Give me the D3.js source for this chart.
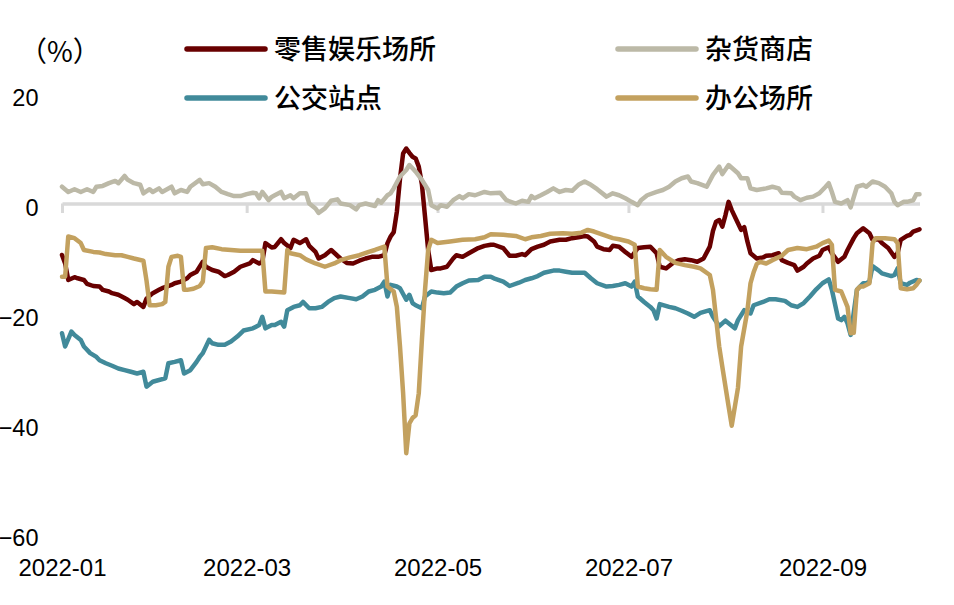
<!DOCTYPE html>
<html>
<head>
<meta charset="utf-8">
<script src="https://cdn.jsdelivr.net/npm/d3@7"></script>
<style>
  html, body { margin: 0; padding: 0; background: #fff; }
  svg { display: block; }
  .num { font-family: "Liberation Sans", Arial, sans-serif; fill: #000; }
  .cjk { font-family: "Noto Sans CJK SC", "Noto Sans", sans-serif; fill: #000; }
</style>
</head>
<body>
<svg id="chart" width="954" height="605"></svg>
<script>
// ---- data (day offset from startDate, value in %) ----
const startDate = "2022-01-01";
const seriesNames = ["零售娱乐场所", "杂货商店", "公交站点", "办公场所"];
const yTicks = [20, 0, -20, -40, -60];
const xTickDates = ["2022-01-01", "2022-03-01", "2022-05-01", "2022-07-01", "2022-09-01"];
const xTickLabels = ["2022-01", "2022-03", "2022-05", "2022-07", "2022-09"];
const lastDay = 274;

const retail = [[0,-9.36],[1,-10.9],[2,-13.9],[4,-13.4],[5,-13.6],[7,-13.9],[8,-14.6],[10,-15.0],[12,-15.1],[13,-15.7],[15,-16.0],[16,-16.3],[18,-16.6],[20,-17.2],[21,-17.5],[23,-18.3],[24,-17.9],[26,-18.8],[27,-17.3],[29,-16.3],[31,-15.7],[32,-15.4],[35,-14.8],[36,-14.5],[38,-14.2],[40,-13.6],[41,-13.0],[43,-12.4],[45,-10.6],[46,-11.5],[48,-12.1],[50,-12.4],[52,-13.2],[53,-13.0],[55,-12.4],[57,-11.5],[60,-10.9],[61,-10.3],[63,-10.9],[64,-10.6],[65,-7.2],[67,-8.0],[68,-7.9],[70,-6.5],[71,-7.2],[73,-8.1],[74,-6.6],[76,-7.2],[78,-6.5],[79,-7.7],[81,-8.8],[82,-10.0],[84,-9.4],[86,-8.45],[88,-9.5],[89,-10.0],[91,-10.8],[93,-10.9],[95,-10.4],[97,-10.0],[99,-9.7],[101,-9.7],[103,-9.4],[104,-7.2],[105,-6.0],[106,-5.2],[107,-1.5],[108,4.5],[109,9.1],[110,10.0],[111,9.2],[112,8.5],[113,8.2],[114,6.7],[115,3.5],[116,-2.4],[117,-8.45],[118,-12.1],[120,-11.8],[121,-11.8],[123,-11.5],[125,-10.0],[126,-9.4],[128,-9.7],[130,-9.05],[133,-8.1],[135,-7.7],[137,-7.5],[138,-7.5],[141,-8.1],[143,-9.5],[145,-9.5],[147,-9.2],[148,-9.4],[150,-8.3],[152,-7.85],[154,-7.5],[156,-6.9],[159,-6.6],[161,-6.6],[163,-6.3],[165,-6.15],[167,-5.9],[168,-6.0],[170,-6.9],[171,-7.85],[173,-8.3],[175,-8.45],[176,-7.7],[178,-7.85],[180,-8.8],[182,-9.7],[184,-8.1],[186,-7.95],[188,-7.85],[190,-9.05],[191,-11.5],[193,-11.8],[195,-10.9],[197,-10.3],[199,-10.15],[201,-10.3],[203,-10.6],[205,-10.0],[207,-7.85],[208,-5.0],[209,-3.3],[210,-3.0],[211,-4.2],[212,-2.1],[213,0.3],[214,-1.2],[216,-3.6],[217,-4.8],[218,-4.3],[219,-6.9],[220,-9.05],[222,-10.0],[224,-9.8],[225,-9.5],[227,-9.4],[229,-9.05],[230,-10.3],[232,-10.8],[234,-11.2],[235,-12.2],[237,-11.5],[238,-10.9],[240,-10.0],[242,-9.5],[243,-8.45],[245,-7.95],[246,-9.05],[248,-10.6],[250,-9.7],[251,-8.45],[253,-6.3],[254,-5.4],[256,-4.5],[258,-5.4],[259,-6.6],[261,-6.5],[262,-7.2],[264,-8.1],[266,-9.7],[267,-9.05],[268,-6.6],[270,-5.9],[271,-5.7],[272,-5.1],[274,-4.7]];

const grocery = [[0,3.05],[2,2.1],[4,2.6],[6,2.1],[8,2.6],[10,2.1],[11,3.05],[13,3.2],[15,3.7],[17,4.1],[18,3.7],[20,5.0],[21,4.3],[23,3.7],[25,3.4],[26,1.85],[28,2.6],[29,2.1],[31,2.75],[32,2.1],[35,3.05],[36,1.85],[38,2.45],[40,2.1],[41,3.05],[44,4.3],[45,3.5],[47,3.7],[49,3.05],[51,2.1],[53,1.7],[55,1.35],[57,1.35],[59,1.7],[61,1.95],[62,1.85],[63,0.95],[64,2.1],[66,0.6],[67,1.2],[68,1.5],[70,2.1],[71,0.95],[73,1.5],[74,0.95],[76,1.85],[78,1.85],[79,0.0],[81,-0.9],[82,-1.7],[84,-0.9],[86,0.5],[88,0.75],[89,0.0],[92,-0.3],[94,-1.05],[95,-0.3],[97,0.0],[100,-0.45],[101,0.6],[102,0.15],[104,1.5],[105,1.85],[106,2.75],[108,4.9],[110,6.1],[111,7.0],[112,6.4],[113,5.8],[115,4.3],[117,2.45],[118,-0.3],[120,-0.9],[121,-0.3],[123,-0.6],[125,0.6],[127,1.35],[128,0.95],[130,1.7],[132,1.5],[135,2.1],[137,1.85],[140,1.95],[142,0.6],[145,0.0],[147,0.5],[149,0.3],[150,1.35],[151,0.95],[153,1.5],[155,2.1],[157,2.75],[159,2.1],[161,2.45],[163,2.3],[165,3.4],[167,4.0],[169,3.4],[171,2.6],[174,1.25],[176,1.85],[178,1.5],[180,0.95],[182,0.3],[184,-0.3],[185,0.6],[187,1.5],[190,2.1],[192,2.45],[194,3.05],[196,4.0],[198,4.6],[200,4.9],[201,4.0],[203,3.7],[206,3.05],[208,5.2],[210,6.7],[211,5.35],[213,7.0],[216,5.5],[217,4.6],[219,4.6],[220,2.75],[222,2.45],[225,2.75],[227,3.05],[229,2.75],[230,1.95],[233,1.85],[234,1.25],[236,0.6],[238,1.05],[240,1.25],[242,1.85],[244,3.05],[245,3.7],[246,2.1],[247,0.3],[249,0.0],[251,0.6],[252,-0.7],[254,3.05],[256,3.4],[257,3.05],[259,4.0],[261,3.7],[263,3.05],[265,1.85],[266,0.3],[267,-0.3],[269,0.3],[270,0.3],[272,0.6],[273,1.7],[274,1.7]];

const transit = [[0,-23.6],[1,-26.0],[3,-23.3],[4,-23.9],[6,-24.8],[7,-26.0],[9,-27.2],[11,-27.9],[12,-28.5],[14,-29.05],[16,-29.5],[18,-30.0],[20,-30.3],[22,-30.6],[24,-30.9],[26,-30.6],[27,-33.3],[29,-32.4],[31,-32.1],[33,-31.8],[34,-29.05],[36,-28.8],[38,-28.5],[39,-30.9],[41,-30.3],[43,-28.8],[44,-27.9],[45,-27.2],[47,-24.8],[48,-25.4],[50,-25.7],[52,-25.7],[54,-25.1],[56,-24.2],[58,-23.1],[61,-22.7],[62,-22.4],[63,-22.1],[64,-20.6],[65,-22.7],[67,-22.1],[68,-22.1],[70,-21.5],[71,-22.4],[72,-19.4],[74,-18.8],[76,-18.5],[77,-17.9],[79,-19.05],[81,-19.05],[83,-18.8],[85,-17.9],[87,-17.2],[89,-16.9],[92,-17.2],[94,-17.4],[96,-16.9],[98,-16.0],[100,-15.7],[102,-15.1],[103,-14.2],[104,-16.9],[105,-14.8],[107,-15.1],[108,-15.4],[110,-17.5],[111,-16.6],[112,-18.1],[113,-18.5],[115,-19.05],[116,-16.9],[118,-16.0],[120,-16.2],[122,-16.3],[124,-16.2],[126,-15.1],[128,-14.5],[130,-14.0],[133,-13.9],[135,-13.3],[137,-13.3],[138,-13.6],[141,-14.2],[143,-15.0],[146,-14.4],[148,-13.9],[150,-13.6],[152,-13.2],[154,-12.6],[157,-12.2],[159,-12.2],[161,-12.4],[163,-12.6],[165,-12.6],[167,-12.6],[169,-13.6],[171,-14.5],[174,-15.1],[176,-15.0],[178,-14.8],[180,-14.5],[182,-15.1],[183,-14.2],[184,-16.9],[186,-17.9],[188,-18.8],[189,-19.4],[190,-20.9],[191,-18.3],[194,-18.8],[196,-19.05],[198,-19.5],[200,-20.0],[202,-20.6],[204,-19.9],[207,-19.4],[208,-20.6],[210,-22.3],[212,-21.3],[215,-22.7],[216,-21.2],[218,-19.4],[220,-20.0],[221,-18.5],[224,-17.9],[226,-17.4],[228,-17.4],[231,-17.7],[233,-18.5],[235,-18.8],[237,-18.1],[239,-16.9],[241,-15.6],[243,-14.5],[245,-13.8],[246,-15.7],[248,-20.9],[249,-21.2],[250,-20.6],[251,-21.8],[252,-23.9],[254,-15.7],[256,-14.5],[257,-14.5],[258,-14.2],[259,-11.4],[261,-12.2],[262,-12.7],[265,-13.2],[266,-13.0],[267,-11.8],[268,-14.5],[270,-14.8],[271,-14.4],[273,-13.9],[274,-14.0]];

const office = [[0,-13.3],[1,-13.3],[2,-6.0],[4,-6.3],[6,-7.2],[7,-8.45],[10,-8.8],[12,-8.9],[14,-9.2],[17,-9.4],[19,-9.4],[21,-9.7],[23,-10.0],[26,-10.4],[27,-14.0],[28,-18.5],[30,-18.5],[32,-18.3],[33,-17.9],[34,-11.5],[35,-9.7],[37,-9.5],[38,-9.7],[39,-15.7],[40,-15.7],[42,-15.5],[44,-15.0],[45,-14.2],[46,-8.1],[48,-7.95],[51,-8.3],[54,-8.45],[57,-8.6],[61,-8.6],[64,-8.6],[65,-16.0],[67,-16.0],[71,-16.2],[72,-8.45],[73,-9.05],[76,-9.4],[78,-10.15],[81,-10.9],[84,-11.5],[87,-10.9],[89,-10.3],[92,-9.8],[95,-9.4],[98,-8.8],[100,-8.45],[103,-7.85],[104,-15.1],[106,-16.0],[107,-18.8],[108,-26.0],[109,-34.5],[110,-45.4],[111,-40.0],[112,-39.0],[113,-38.5],[114,-34.5],[115,-24.8],[116,-15.7],[117,-8.45],[118,-6.6],[120,-7.2],[124,-6.9],[128,-6.6],[132,-6.5],[135,-6.15],[137,-5.6],[141,-5.7],[145,-5.9],[148,-6.5],[150,-6.15],[153,-5.9],[156,-5.5],[160,-5.4],[163,-5.5],[166,-5.3],[168,-4.8],[170,-5.1],[173,-5.7],[176,-6.3],[178,-6.5],[181,-6.9],[183,-7.5],[184,-15.1],[186,-15.4],[188,-15.6],[190,-15.7],[191,-8.45],[193,-9.7],[196,-10.8],[199,-11.2],[202,-11.5],[204,-11.8],[207,-13.0],[208,-15.7],[210,-26.0],[211,-29.7],[213,-36.9],[214,-40.4],[216,-33.5],[217,-26.0],[219,-19.5],[220,-14.5],[221,-12.5],[222,-11.0],[223,-10.6],[225,-10.9],[227,-10.3],[230,-9.5],[232,-8.45],[235,-8.1],[238,-8.3],[241,-7.85],[243,-7.2],[245,-6.75],[246,-7.5],[247,-15.7],[249,-16.0],[251,-18.8],[252,-23.6],[253,-23.5],[254,-15.7],[255,-15.1],[256,-15.1],[258,-14.5],[259,-7.2],[260,-6.3],[263,-6.3],[266,-6.5],[267,-7.2],[268,-15.4],[270,-15.6],[272,-15.4],[273,-14.8],[274,-14.0]];

// ---- styles ----
const colors = ["#680000", "#bcb9a7", "#418a9a", "#c3a15f"];
const seriesData = [retail, grocery, transit, office];

const svg = d3.select("#chart");
const parse = d3.utcParse("%Y-%m-%d");
const t0 = parse(startDate);

const x = d3.scaleUtc()
  .domain([t0, d3.utcDay.offset(t0, lastDay)])
  .range([62, 919.5]);
const y = d3.scaleLinear().domain([-60, 20]).range([533.5, 93.5]);

// y axis labels
const yAxis = d3.axisLeft(y).tickValues(yTicks).tickSize(0).tickPadding(0)
  .tickFormat(d3.format("d"));
const gy = svg.append("g").attr("transform", "translate(38.5,3.5)").call(yAxis);
gy.select(".domain").remove();
gy.selectAll("text").attr("class", "num").attr("font-size", 23.5).attr("fill", "#000")
  .attr("font-family", null).attr("dy", "0.35em");

// zero line with ticks
const tickDates = xTickDates.map(parse);
const zeroAxis = d3.axisBottom(x).tickValues(tickDates).tickSize(9.5).tickSizeOuter(0).tickFormat("");
const gz = svg.append("g").attr("transform", `translate(0,${y(0)})`).call(zeroAxis);
gz.select(".domain").attr("stroke", "#d9d9d9").attr("stroke-width", 3.5);
gz.selectAll(".tick line").attr("stroke", "#d9d9d9").attr("stroke-width", 3);

// x labels
const labelAxis = d3.axisBottom(x).tickValues(tickDates).tickSize(0).tickPadding(0)
  .tickFormat((d, i) => xTickLabels[i]);
const gx = svg.append("g").attr("transform", "translate(0,568)").call(labelAxis);
gx.select(".domain").remove();
gx.selectAll("text").attr("class", "num").attr("font-size", 24).attr("fill", "#000")
  .attr("font-family", null).attr("dy", "0.35em").attr("y", 0);

// lines
const line = d3.line()
  .x(d => x(d3.utcDay.offset(t0, d[0])))
  .y(d => y(d[1]));
[0, 1, 2, 3].forEach(i => {
  svg.append("path")
    .datum(seriesData[i])
    .attr("fill", "none")
    .attr("stroke", colors[i])
    .attr("stroke-width", 4.5)
    .attr("stroke-linejoin", "round")
    .attr("stroke-linecap", "round")
    .attr("d", line);
});

// unit label
svg.append("text").attr("class", "cjk").attr("x", 19).attr("y", 52)
  .attr("dy", "0.35em").attr("font-size", 28).text("（%）");

// legend
const legendPos = [[185, 49], [616, 49], [185, 98], [616, 98]];
seriesNames.forEach((name, i) => {
  const [lx, ly] = legendPos[i];
  svg.append("line").attr("x1", lx + 2).attr("x2", lx + 80).attr("y1", ly).attr("y2", ly)
    .attr("stroke", colors[i]).attr("stroke-width", 5.5).attr("stroke-linecap", "round");
  svg.append("text").attr("class", "cjk").attr("x", lx + 89).attr("y", ly + 1)
    .attr("dy", "0.35em").attr("font-size", 27).attr("font-weight", 500).text(name);
});
</script>
</body>
</html>
